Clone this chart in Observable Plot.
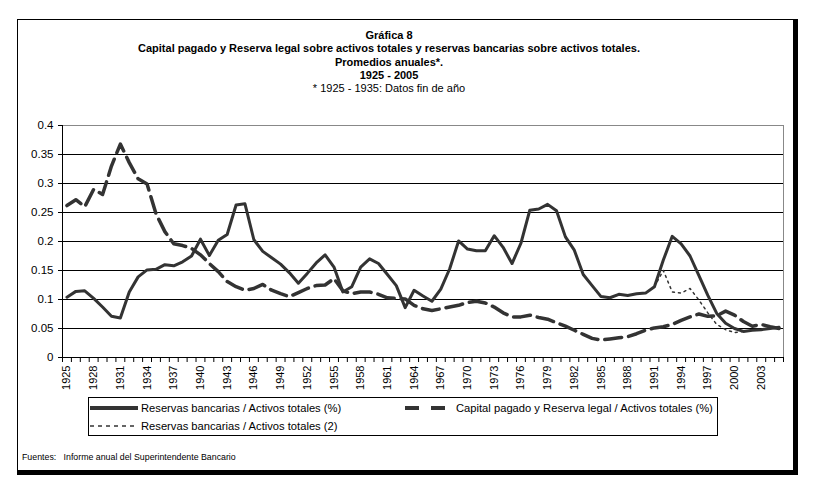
<!DOCTYPE html>
<html><head><meta charset="utf-8">
<script src="https://cdn.jsdelivr.net/npm/d3@7"></script>
<script src="https://cdn.jsdelivr.net/npm/@observablehq/plot@0.6"></script>
<style>
body{margin:0;width:820px;height:495px;position:relative;background:#fff;font-family:"Liberation Sans",Arial,sans-serif;overflow:hidden}
#frame{position:absolute;left:17px;top:19px;width:775px;height:450px;border-left:1px solid #000;border-top:1px solid #000;border-right:5px solid #000;border-bottom:5px solid #000}
#chart{position:absolute;left:0;top:0}
#chart svg{background:transparent}
#title{position:absolute;left:0;top:29px;width:778px;text-align:center;font-size:11px;font-weight:bold;line-height:13.3px;color:#000}
#title .note{font-weight:normal}
#legend{position:absolute;left:88px;top:397px;width:628px;height:37px;border:1px solid #000;font-size:11.2px;color:#000}
.item{position:absolute;display:flex;align-items:center;height:14px;white-space:nowrap}
.item svg{margin-right:3px;flex:none}
#source{position:absolute;left:22px;top:452px;font-size:8.8px;color:#000;white-space:nowrap}
</style></head>
<body>
<div id="frame"></div>
<div id="chart"></div>
<div id="title">
<div>Gráfica 8</div>
<div>Capital pagado y Reserva legal sobre activos totales y reservas bancarias sobre activos totales.</div>
<div>Promedios anuales*.</div>
<div>1925 - 2005</div>
<div class="note">* 1925 - 1935: Datos fin de año</div>
</div>
<div id="legend">
<div class="item" style="left:1px;top:3px"><svg width="48" height="6"><line x1="0" x2="48" y1="3" y2="3" stroke="#333" stroke-width="4"/></svg>Reservas bancarias / Activos totales (%)</div>
<div class="item" style="left:316px;top:3px"><svg width="48" height="6"><line x1="0" x2="48" y1="3" y2="3" stroke="#333" stroke-width="4" stroke-dasharray="14,12"/></svg>Capital pagado y Reserva legal / Activos totales (%)</div>
<div class="item" style="left:1px;top:21px"><svg width="48" height="6"><line x1="0" x2="48" y1="3" y2="3" stroke="#333" stroke-width="1.5" stroke-dasharray="4,4"/></svg>Reservas bancarias / Activos totales (2)</div>
</div>
<div id="source">Fuentes:&nbsp;&nbsp;&nbsp;Informe anual del Superintendente Bancario</div>
<script>
const years = d3.range(1925, 2006);
const reservas = [0.104,0.114,0.115,0.102,0.087,0.071,0.068,0.113,0.139,0.151,
0.152,0.160,0.158,0.165,0.175,0.204,0.176,0.202,0.212,0.263,
0.265,0.203,0.183,0.172,0.161,0.146,0.128,0.145,0.163,0.177,
0.156,0.113,0.122,0.156,0.170,0.162,0.143,0.124,0.086,0.116,
0.106,0.097,0.118,0.153,0.201,0.187,0.184,0.184,0.210,0.190,
0.162,0.197,0.254,0.256,0.264,0.253,0.208,0.185,0.143,0.124,
0.105,0.103,0.109,0.107,0.110,0.111,0.122,0.168,0.209,0.196,
0.175,0.141,0.107,0.076,0.059,0.050,0.045,0.047,0.048,0.050,0.052];
const capital = [0.262,0.272,0.260,0.290,0.281,0.330,0.368,0.336,0.308,0.299,
0.248,0.217,0.196,0.193,0.188,0.177,0.162,0.148,0.131,0.122,
0.116,0.119,0.126,0.116,0.110,0.105,0.112,0.119,0.124,0.125,
0.136,0.115,0.110,0.113,0.113,0.109,0.103,0.102,0.101,0.090,
0.084,0.081,0.084,0.087,0.090,0.095,0.097,0.094,0.087,0.077,
0.070,0.070,0.073,0.069,0.066,0.060,0.054,0.047,0.040,0.033,
0.030,0.032,0.034,0.036,0.041,0.047,0.051,0.053,0.057,0.064,
0.070,0.075,0.071,0.072,0.080,0.073,0.062,0.054,0.057,0.053,0.050];
const reservas2Years = [1991,1992,1993,1994,1995,1996,1997,1998,1999,2000,2001];
const reservas2 = [0.122,0.150,0.113,0.111,0.119,0.099,0.077,0.057,0.048,0.043,0.045];
const yTicks = [0,0.05,0.1,0.15,0.2,0.25,0.3,0.35,0.4];
const gridY = [0.05,0.1,0.15,0.2,0.25,0.3,0.35];
const xLabelYears = [1925,1928,1931,1934,1937,1940,1943,1946,1949,1952,1955,1958,1961,1964,1967,1970,1973,1976,1979,1982,1985,1988,1991,1994,1997,2000,2003];

const solidRows = years.map((y,i)=>({year:y, v:reservas[i]}));
const dashRows = years.map((y,i)=>({year:y, v:capital[i]}));
const dotRows = reservas2Years.map((y,i)=>({year:y, v:reservas2[i]}));
const boundaries = years.map(y=>y-0.5).concat([years[years.length-1]+0.5]);
const x0 = years[0]-0.5, x1 = years[years.length-1]+0.5;

const chart = Plot.plot({
  width: 820, height: 400,
  marginTop: 125, marginLeft: 62, marginRight: 37, marginBottom: 43,
  x: {type:"linear", domain:[x0, x1]},
  y: {domain:[0,0.4]},
  style: {fontFamily:"Liberation Sans, Arial, sans-serif", fontSize:"11px", color:"#000", background:"transparent", overflow:"visible"},
  marks: [
    Plot.ruleY(gridY, {stroke:"#000", strokeWidth:1, strokeOpacity:1}),
    Plot.ruleY([0.4], {stroke:"#888", strokeOpacity:1}),
    Plot.ruleX([x1], {stroke:"#888", strokeOpacity:1}),
    Plot.ruleX([x0], {stroke:"#000", strokeOpacity:1}),
    Plot.ruleY([0], {stroke:"#000", strokeOpacity:1}),
    Plot.axisY({ticks:yTicks, tickFormat:d=>String(d), tickSize:4, tickPadding:5, label:null, fontSize:11.5}),
    Plot.axisX({ticks:boundaries, tickFormat:()=>"", tickSize:5, label:null}),
    Plot.axisX({ticks:xLabelYears, tickFormat:d=>String(d), tickSize:0, tickPadding:8, tickRotate:-90, label:null, fontSize:11}),
    Plot.lineY(dashRows, {x:"year", y:"v", stroke:"#333", strokeWidth:3.5, strokeDasharray:"17,7"}),
    Plot.lineY(dotRows, {x:"year", y:"v", stroke:"#333", strokeWidth:1.5, strokeDasharray:"2,4"}),
    Plot.lineY(solidRows, {x:"year", y:"v", stroke:"#333", strokeWidth:3})
  ]
});
document.getElementById("chart").appendChild(chart);
</script>
</body></html>
